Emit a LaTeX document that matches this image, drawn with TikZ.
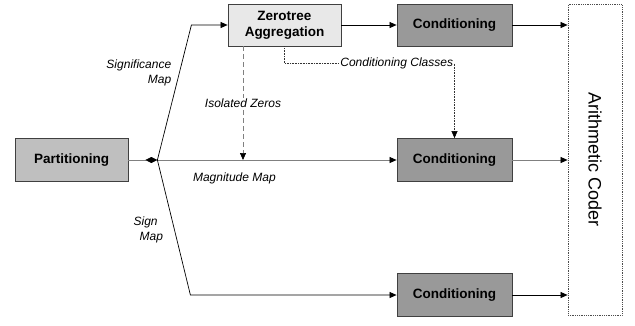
\documentclass[tikz,border=0pt]{standalone}
\usepackage{fontspec}
\setmainfont{Liberation Sans}
\usetikzlibrary{arrows.meta, positioning}

\begin{document}
\begin{tikzpicture}[
    node distance=4cm,
    on grid,
    >={Triangle[length=7pt,width=6pt,color=black]},
    flow/.style={line width=0.7pt},
    block/.style={draw=black!75, line width=0.8pt, inner sep=0pt, align=center,
                  minimum width=113pt, minimum height=43pt,
                  font=\fontsize{13.5}{16}\selectfont\bfseries},
    condbox/.style={block, fill=black!40, minimum width=115pt},
    lbl/.style={font=\fontsize{12}{15}\selectfont\itshape, text=black, inner sep=1pt},
    coderbox/.style={draw=black!70, densely dotted, line width=0.8pt, inner sep=0pt,
                     minimum width=54pt, minimum height=311pt,
                     font=\fontsize{18}{20}\selectfont}
]
   \useasboundingbox (0,0) rectangle (635pt,-325pt);

   % Blocks
   \node[block, fill=black!25] (part) at (71.5pt,-160pt) {Partitioning};
   \node[condbox] (cond2) [right=383pt of part] {Conditioning};
   \node[condbox, minimum height=42pt] (cond1) [above=135pt of cond2] {Conditioning};
   \node[condbox] (cond3) [below=135pt of cond2] {Conditioning};
   \node[block, fill=black!9, minimum height=42pt] (zt) [left=170pt of cond1] {Zerotree\\Aggregation};
   \node[coderbox] (coder) [right=140.5pt of cond2] {\rotatebox{-90}{Arithmetic Coder}};
   \coordinate (split) at ([xshift=29pt]part.east); % where the three maps part

   % Flows
   \draw[flow, gray, -{Diamond[length=12pt,width=6pt,color=black]}] (part) -- (split);
   \draw[flow, ->] (split) -- ++(34pt,135pt) -- (zt);
   \draw[flow, gray, ->] (split) -- (cond2);
   \draw[flow, ->] (split) -- ++(33pt,-135pt) -- (cond3);
   \draw[flow, ->] (zt) -- (cond1);
   \draw[flow, ->] (cond1) -- (cond1 -| coder.west);
   \draw[flow, gray, ->] (cond2) -- (cond2 -| coder.west);
   \draw[flow, ->] (cond3) -- (cond3 -| coder.west);
   \draw[flow, gray, dash pattern=on 5pt off 3pt, ->] ([xshift=-41.5pt]zt.south)
        -- node[lbl, fill=white] {Isolated Zeros} ([xshift=-41.5pt]zt.south |- split);
   \draw[black!80, line width=0.6pt, densely dotted, ->] (zt.south) -- ++(0,-17pt)
        -| node[lbl, fill=white, pos=0.33] {Conditioning Classes} (cond2);

   % Map labels
   \node[lbl, align=right, anchor=east] (sigmap) at ([shift={(15pt,87.5pt)}]split) {Significance\\Map};
   \node[lbl] (magmap) at ([shift={(77pt,-18pt)}]split) {Magnitude Map};
   \node[lbl, align=left, anchor=west] (signmap) at ([shift={(-25pt,-70pt)}]split) {Sign\\\hspace*{6pt}Map};
\end{tikzpicture}
\end{document}
